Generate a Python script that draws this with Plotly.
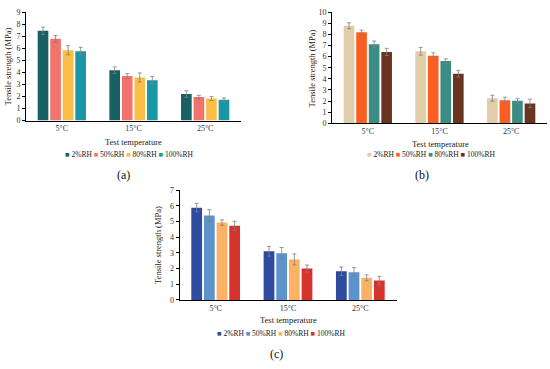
import plotly.graph_objects as go

categories = ["5°C", "15°C", "25°C"]
series = ["2%RH", "50%RH", "80%RH", "100%RH"]

# Panel (a)
a_2 = [7.45, 4.18, 2.20]
a_50 = [6.78, 3.69, 1.96]
a_80 = [5.83, 3.58, 1.83]
a_100 = [5.75, 3.34, 1.72]
a_err_2 = [0.30, 0.27, 0.27]
a_err_50 = [0.27, 0.20, 0.14]
a_err_80 = [0.38, 0.37, 0.16]
a_err_100 = [0.33, 0.32, 0.16]
a_colors = ["#195f66", "#f2736b", "#fcbd46", "#1a96a4"]

# Panel (b)
b_2 = [8.77, 6.48, 2.26]
b_50 = [8.18, 6.07, 2.08]
b_80 = [7.10, 5.60, 2.02]
b_100 = [6.42, 4.46, 1.79]
b_err_2 = [0.27, 0.35, 0.27]
b_err_50 = [0.20, 0.27, 0.27]
b_err_80 = [0.30, 0.20, 0.20]
b_err_100 = [0.32, 0.30, 0.38]
b_colors = ["#e2cdaa", "#fa5e20", "#3a8d83", "#6a3420"]

# Panel (c)
c_2 = [5.88, 3.10, 1.83]
c_50 = [5.38, 2.97, 1.77]
c_80 = [4.93, 2.58, 1.41]
c_100 = [4.72, 2.00, 1.23]
c_err_2 = [0.27, 0.31, 0.27]
c_err_50 = [0.37, 0.37, 0.29]
c_err_80 = [0.17, 0.35, 0.19]
c_err_100 = [0.29, 0.22, 0.27]
c_colors = ["#2f4b9f", "#5e92cb", "#fdb164", "#d7332d"]

panels = [
    ("x", "y", [a_2, a_50, a_80, a_100], [a_err_2, a_err_50, a_err_80, a_err_100], a_colors),
    ("x2", "y2", [b_2, b_50, b_80, b_100], [b_err_2, b_err_50, b_err_80, b_err_100], b_colors),
    ("x3", "y3", [c_2, c_50, c_80, c_100], [c_err_2, c_err_50, c_err_80, c_err_100], c_colors),
]

FONT = "'Liberation Serif', 'Times New Roman', Times, serif"
fig = go.Figure()
for xa, ya, vals, errs, cols in panels:
    for name, v, e, col in zip(series, vals, errs, cols):
        fig.add_trace(go.Bar(
            x=categories, y=v, name=name, xaxis=xa, yaxis=ya,
            marker=dict(color=col, line=dict(width=0)),
            error_y=dict(type="data", array=e, color="#808080", thickness=0.8, width=2),
            showlegend=False,
        ))

W, H = 550, 369
def px(x):
    return x / W
def py(y):
    return 1 - y / H

axis_common = dict(showline=True, linecolor="black", linewidth=1, showgrid=False, zeroline=False)
xcommon = dict(axis_common, ticks="", tickfont=dict(family=FONT, size=8, color="#333"), fixedrange=True)
ycommon = dict(axis_common, ticks="outside", ticklen=3, tickwidth=1, tickcolor="black",
               dtick=1, tickfont=dict(family=FONT, size=8, color="#333"))

fig.update_layout(
    width=W, height=H, margin=dict(l=0, r=0, t=0, b=0),
    paper_bgcolor="white", plot_bgcolor="white",
    barmode="group", bargap=0.3, bargroupgap=0.15,
    showlegend=False,
    xaxis=dict(xcommon, domain=[px(26), px(241)], anchor="y"),
    yaxis=dict(ycommon, domain=[py(119.5), py(8.3)], range=[0, 9], anchor="x"),
    xaxis2=dict(xcommon, domain=[px(332), px(547)], anchor="y2"),
    yaxis2=dict(ycommon, domain=[py(122.3), py(8.3)], range=[0, 10], anchor="x2"),
    xaxis3=dict(xcommon, domain=[px(179.5), px(396.5)], anchor="y3"),
    yaxis3=dict(ycommon, domain=[py(303.3), py(190.7)], range=[0, 7], anchor="x3"),
)

def legend_text(cols):
    parts = []
    for name, col in zip(series, cols):
        parts.append(f"<span style='color:{col}'>■</span> {name}")
    return "&nbsp;".join(parts)

annots = []
# y axis titles
for xc, yc in [(8, 64), (312, 66), (158, 247)]:
    annots.append(dict(x=px(xc), y=py(yc), xref="paper", yref="paper", text="Tensile strength (MPa)",
                       textangle=-90, showarrow=False, font=dict(family=FONT, size=8.5, color="#222"),
                       xanchor="center", yanchor="middle"))
# x axis titles
for xc, yc in [(133, 141), (440, 143.3), (288, 324)]:
    annots.append(dict(x=px(xc), y=py(yc), xref="paper", yref="paper", text="Test temperature",
                       showarrow=False, font=dict(family=FONT, size=8.5, color="#222"),
                       xanchor="center", yanchor="middle"))
# legends
for xc, yc, cols in [(129, 154, a_colors), (431.5, 154, b_colors), (281, 337.3, c_colors)]:
    annots.append(dict(x=px(xc), y=py(yc), xref="paper", yref="paper", text=legend_text(cols),
                       showarrow=False, font=dict(family=FONT, size=7.5, color="#222"),
                       xanchor="center", yanchor="middle"))
# panel labels
for xc, yc, lab in [(123, 175, "(a)"), (421.5, 175, "(b)"), (276, 358.3, "(c)")]:
    annots.append(dict(x=px(xc), y=py(yc), xref="paper", yref="paper", text=lab,
                       showarrow=False, font=dict(family=FONT, size=12, color="#111"),
                       xanchor="center", yanchor="middle"))

fig.update_layout(annotations=annots)
fig.write_html("out.html", config={"displayModeBar": False},
               post_script="document.body.style.margin='0';document.body.style.padding='0';")
